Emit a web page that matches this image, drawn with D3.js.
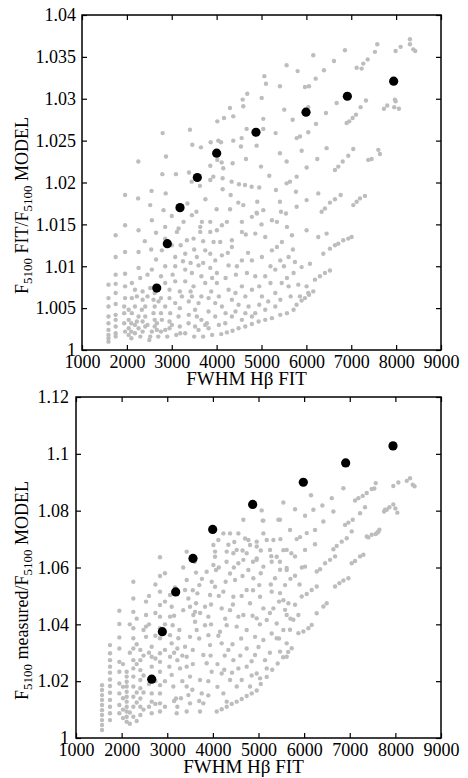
<!DOCTYPE html>
<html>
<head>
<meta charset="utf-8">
<script src="https://cdn.jsdelivr.net/npm/d3@7"></script>
<style>
  body { margin: 0; background: #fff; }
  text { font-family: "Liberation Serif", "Times New Roman", serif; fill: #000; }
</style>
</head>
<body>
<svg id="chart" width="468" height="778"></svg>
<script>
// x axis is the same for both panels
var xTicks = [1000, 2000, 3000, 4000, 5000, 6000, 7000, 8000, 9000];

var topYTicks = [1, 1.005, 1.01, 1.015, 1.02, 1.025, 1.03, 1.035, 1.04];
var topYLabels = ["1", "1.005", "1.01", "1.015", "1.02", "1.025", "1.03", "1.035", "1.04"];
var bottomYTicks = [1, 1.02, 1.04, 1.06, 1.08, 1.1, 1.12];
var bottomYLabels = ["1", "1.02", "1.04", "1.06", "1.08", "1.1", "1.12"];

// binned means (black)
var topMeanX = [2665, 2901, 3184, 3570, 4001, 4877, 5992, 6913, 7945];
var topMeanY = [1.0074, 1.0127, 1.0170, 1.0206, 1.0235, 1.0260, 1.0284, 1.0303, 1.0321];
var bottomMeanX = [2659, 2892, 3185, 3564, 3996, 4872, 5982, 6911, 7948];
var bottomMeanY = [1.0207, 1.0374, 1.0514, 1.0632, 1.0734, 1.0822, 1.0900, 1.0968, 1.1028];

// model grid (grey)
var topGrid = [
  [1590,1.0010],[1590,1.0014],[1590,1.0018],[1590,1.0024],[1590,1.0032],[1590,1.0040],[1590,1.0052],[1590,1.0062],[1590,1.0078],
  [1750,1.0016],[1750,1.0020],[1750,1.0028],[1750,1.0036],[1750,1.0042],[1750,1.0055],[1750,1.0068],[1750,1.0079],[1750,1.0090],[1750,1.0111],[1750,1.0137],
  [1960,1.0022],[1940,1.0032],[1940,1.0044],[1940,1.0052],[1960,1.0062],[1960,1.0076],[1960,1.0091],[1960,1.0117],[1960,1.0149],[1960,1.0185],
  [2250,1.0181],[2550,1.0190],[2865,1.0187],[2255,1.0225],[2797,1.0259],[2872,1.0231],[2790,1.0210],[3094,1.0210],[3406,1.0263],[3458,1.0245],
  [3651,1.0242],[3384,1.0212],[3444,1.0201],[3629,1.0196],[3859,1.0220],[3859,1.0203],[4015,1.0273],[4164,1.0277],[4297,1.0289],[4371,1.0279],
  [4037,1.0250],[4112,1.0224],[4371,1.0250],
  [3867,1.0248],[4097,1.0248],[4580,1.0299],[4594,1.0291],[4683,1.0306],[5004,1.0301],[5063,1.0327],[5100,1.0318],[5411,1.0315],[5560,1.0340],
  [5805,1.0333],[5968,1.0314],[6058,1.0315],[6154,1.0352],[6207,1.0324],[6392,1.0334],[6615,1.0345],[6860,1.0358],[7120,1.0337],[7231,1.0336],
  [7268,1.0342],[7366,1.0347],[7528,1.0356],[7580,1.0365],
  [8308,1.0371],[8308,1.0365],[8382,1.0359],[8426,1.0357],[8100,1.0362],[7988,1.0357],
  [5507,1.0287],[5694,1.0275],[6042,1.0290],[6436,1.0283],[6675,1.0295],[6897,1.0271],[6955,1.0273],[7031,1.0277],[7105,1.0281],[7209,1.0290],
  [7328,1.0298],[7729,1.0288],[7802,1.0292],[7973,1.0299],[7988,1.0297],[7958,1.0290],[8062,1.0288],
  [5040,1.0276],[5315,1.0259],[5783,1.0253],[5857,1.0255],[6042,1.0260],[6214,1.0270],[5040,1.0264],[4669,1.0264],[4558,1.0253],[4542,1.0243],
  [4892,1.0244],[5411,1.0235],[5895,1.0238],[6451,1.0241],[7045,1.0240],[7603,1.0239],[7639,1.0234],[7379,1.0227],[7454,1.0228],
  [4989,1.0219],[5560,1.0225],[6006,1.0218],[6243,1.0228],[6637,1.0215],[6711,1.0219],[6809,1.0225],[6934,1.0232],
  [4654,1.0228],[4357,1.0223],[4148,1.0217],[4134,1.0205],[4334,1.0201],[4498,1.0198],[4632,1.0197],[4780,1.0195],[4950,1.0194],[5173,1.0208],
  [5322,1.0191],[5560,1.0199],[5634,1.0201],[5783,1.0207],[5768,1.0189],[6006,1.0179],[6265,1.0187],[6340,1.0165],[6414,1.0169],[6525,1.0176],
  [6637,1.0180],[6764,1.0185],[7045,1.0173],[7120,1.0177],[7194,1.0181],[7305,1.0184],
  [3926,1.0207],[4015,1.0227],[4134,1.0192],[4313,1.0185],[4483,1.0176],[4594,1.0173],[4906,1.0177],[5040,1.0167],[5411,1.0177],[5434,1.0165],
  [5545,1.0163],[5783,1.0171],[4892,1.0164],
  [2817,1.0167],[2520,1.0173],
  [2260,1.0143],[2557,1.0155],[2854,1.0147],[3152,1.0145],[3263,1.0153],[3449,1.0161],[3635,1.0147],[3672,1.0153],
  [3858,1.0153],[4006,1.0143],[4118,1.0149],[4229,1.0153],[4563,1.0153],[4786,1.0159],[4898,1.0163],[5232,1.0155],[5344,1.0153],[5567,1.0147],
  [2854,1.0133],[3115,1.0141],[3337,1.0131],[3486,1.0133],[3635,1.0141],[3858,1.0141],[3932,1.0129],[4080,1.0129],[4340,1.0131],[4563,1.0141],
  [4861,1.0139],[5083,1.0135],[5344,1.0123],[5455,1.0129],[5678,1.0137],
  [2260,1.0117],[2542,1.0120],[2780,1.0119],[3077,1.0111],[3300,1.0115],[3560,1.0111],[3746,1.0119],[3858,1.0115],[3969,1.0107],[4118,1.0113],
  [4340,1.0123],[4563,1.0107],[4786,1.0107],[5009,1.0111],[5232,1.0119],[5418,1.0107],[5604,1.0111],
  [2260,1.0098],[2557,1.0096],[2854,1.0100],[3077,1.0100],[3300,1.0096],[3449,1.0092],[3597,1.0101],[3858,1.0098],[4006,1.0092],[4266,1.0101],
  [4452,1.0100],[4675,1.0092],[4861,1.0088],[5083,1.0088],[5307,1.0096],[5567,1.0086],[5715,1.0092],
  [2111,1.0080],[2297,1.0086],[2520,1.0074],[2854,1.0080],[3077,1.0082],[3300,1.0082],[3486,1.0076],[3746,1.0080],[4006,1.0080],[4266,1.0072],
  [4563,1.0076],[4786,1.0072],[5009,1.0064],[5307,1.0068],[5604,1.0076],
  [2111,1.0062],[2223,1.0064],[2409,1.0052],[2594,1.0060],[2706,1.0058],[2854,1.0052],[3077,1.0056],[3226,1.0064],[3449,1.0064],[3597,1.0056],
  [3820,1.0062],[3969,1.0056],[4118,1.0052],[4340,1.0060],[4489,1.0054],[4712,1.0052],[4861,1.0044],[5083,1.0048],[5307,1.0052],
  [2111,1.0044],[2223,1.0034],[2409,1.0040],[2594,1.0044],[2780,1.0036],[2966,1.0044],[3152,1.0040],[3375,1.0032],[3560,1.0040],[3783,1.0032],
  [3969,1.0040],[4192,1.0032],[4340,1.0040],[4563,1.0036],[4786,1.0040],
  [2097,1.0032],[2097,1.0022],[2260,1.0026],[2409,1.0028],[2557,1.0022],[2854,1.0024],[3189,1.0020],[3597,1.0024],[3746,1.0030],
  [2260,1.0040],[2334,1.0048],[2669,1.0032],[2669,1.0024],[3003,1.0030],[2520,1.0016],
  [2100,1.0014],[2300,1.0016],[2500,1.0012],[2700,1.0016],[2900,1.0016],[3100,1.0018],[3300,1.0020],[3500,1.0016],[3700,1.0016],[3900,1.0018],
  [4103,1.0019],[4229,1.0021],[4355,1.0023],[4489,1.0026],[4638,1.0028],[4786,1.0031],[4935,1.0034],[5083,1.0036],[5232,1.0038],[5418,1.0042],
  [5567,1.0044],[5715,1.0048],[5782,1.0054],[5894,1.0059],[5968,1.0062],[6060,1.0066],[6154,1.0070],
  [6005,1.0143],[6451,1.0139],[6265,1.0135],[6711,1.0127],[6822,1.0131],[6934,1.0133],[7008,1.0135],[5745,1.0105],[5894,1.0099],[6080,1.0103],
  [6302,1.0088],[6414,1.0092],[6525,1.0095],[5820,1.0078],[6005,1.0076],[5857,1.0064],[6042,1.0068],
  [6377,1.0115],[6525,1.0121],[6637,1.0125],[6191,1.0084]
];

// denser part of the cloud, lower left of the upper panel
var topGridDense = [
  [2040,1.0018],[2040,1.0026],[2040,1.0036],[2040,1.0048],[2180,1.0020],[2180,1.0030],[2180,1.0052],[2180,1.0072],
  [2350,1.0022],[2350,1.0034],[2350,1.0060],[2350,1.0070],[2460,1.0030],[2460,1.0064],[2460,1.0090],
  [2620,1.0028],[2620,1.0036],[2620,1.0052],[2620,1.0068],[2760,1.0022],[2760,1.0044],[2760,1.0062],[2760,1.0088],
  [2950,1.0026],[2950,1.0034],[2950,1.0062],[2950,1.0072],[3020,1.0090],[3180,1.0028],[3180,1.0050],[3180,1.0070],[3250,1.0106],
  [3380,1.0042],[3380,1.0058],[3420,1.0070],[3420,1.0104],[3520,1.0028],[3520,1.0048],[3660,1.0036],[3660,1.0064],[3660,1.0088],[3700,1.0104],
  [3820,1.0026],[3820,1.0046],[3880,1.0070],[3900,1.0086],[4050,1.0030],[4050,1.0064],[4200,1.0044],[4200,1.0086],[4250,1.0116],
  [4420,1.0046],[4420,1.0068],[4430,1.0090],[4640,1.0044],[4640,1.0064],[4700,1.0116],[4950,1.0054],[4950,1.0076],
  [5150,1.0058],[5200,1.0080],[5420,1.0060],[5450,1.0080],[5650,1.0064],[5700,1.0120],
  [3000,1.0125],[3200,1.0125],[3500,1.0120],[3700,1.0130],[2650,1.0108],[2400,1.0130],[2650,1.0140],[3000,1.0160],
  [3350,1.0175],[3550,1.0165],[3750,1.0180],[4000,1.0168],[4300,1.0168],[4650,1.0138],[5000,1.0150],[5200,1.0100],[5500,1.0100]
];

var bottomGrid = [
  [1570,1.0186],[1570,1.0169],[1570,1.0151],[1570,1.0134],[1570,1.0116],[1570,1.0098],[1570,1.0081],[1570,1.0063],[1570,1.0046],[1570,1.0028],
  [1745,1.0327],[1745,1.0298],[1745,1.0274],[1745,1.0251],[1745,1.0230],[1745,1.0206],[1745,1.0183],[1745,1.0159],[1745,1.0134],[1745,1.0110],
  [1745,1.0087],[1745,1.0063],
  [1950,1.0448],[1950,1.0401],[1950,1.0354],[1950,1.0315],[1950,1.0268],[1950,1.0233],[1950,1.0192],[1950,1.0157],[1950,1.0116],[1950,1.0087],
  [2111,1.0233],[2111,1.0216],[2111,1.0198],[2111,1.0181],[2111,1.0163],[2111,1.0145],[2111,1.0128],[2111,1.0110],[2111,1.0093],[2111,1.0075],
  [2111,1.0057],
  [2257,1.0550],[2257,1.0491],[2257,1.0444],[2257,1.0386],[2257,1.0351],[2257,1.0315],[2257,1.0274],[2257,1.0245],[2257,1.0216],[2257,1.0181],
  [2257,1.0145],[2257,1.0110],[2257,1.0075],
  [2410,1.0310],[2410,1.0274],[2410,1.0239],[2410,1.0204],[2410,1.0175],[2410,1.0139],[2410,1.0110],[2410,1.0081],
  [2535,1.0480],[2535,1.0433],[2535,1.0392],[2535,1.0356],
  [2659,1.0321],[2659,1.0286],[2659,1.0251],[2659,1.0157],[2659,1.0128],[2659,1.0087],
  [2841,1.0636],[2841,1.0570],[2841,1.0515],[2841,1.0468],[2841,1.0427],[2841,1.0386],[2841,1.0351],[2841,1.0298],[2841,1.0268],[2841,1.0233],
  [2841,1.0186],[2841,1.0157],[2841,1.0122],[2841,1.0093],
  [3061,1.0503],[3097,1.0462],[3061,1.0427],[3119,1.0397],[3061,1.0362],[3097,1.0333],[3061,1.0286],[3046,1.0251],[3097,1.0222],[3134,1.0181],
  [3192,1.0139],[3221,1.0110],[3207,1.0087],
  [3265,1.0380],[3243,1.0351],[3221,1.0315],[3221,1.0274],[3280,1.0245],
  [3426,1.0656],[3426,1.0556],[3390,1.0521],[3463,1.0491],[3499,1.0462],[3572,1.0433],[3609,1.0409],[3645,1.0380],[3499,1.0356],[3390,1.0321],
  [3426,1.0286],[3426,1.0251],[3499,1.0216],[3426,1.0181],[3463,1.0151],[3499,1.0122],[3426,1.0093],
  [3631,1.0474],[3660,1.0509],[3704,1.0538],[3609,1.0444],
  [3864,1.0585],[4011,1.0609],[4047,1.0656],[4011,1.0679],[3974,1.0550],[4047,1.0532],[3938,1.0503],[3828,1.0462],[3901,1.0427],[3828,1.0397],
  [3901,1.0362],[3938,1.0327],[3791,1.0292],[3864,1.0263],[3974,1.0233],[3718,1.0204],[3755,1.0157],[3791,1.0122],[3718,1.0093],[4047,1.0638],
  [4069,1.0591],[3630,1.0582],
  [4230,1.0720],[4376,1.0720],[4559,1.0720],[4303,1.0656],[4449,1.0650],[4559,1.0615],[4376,1.0579],[4486,1.0556],[4230,1.0515],[4449,1.0497],
  [4193,1.0456],[4376,1.0450],[4559,1.0427],[4303,1.0397],[4157,1.0374],[4522,1.0392],[4193,1.0333],[4339,1.0310],[4449,1.0274],[4559,1.0245],
  [4193,1.0227],[4376,1.0204],[4522,1.0181],[4230,1.0157],[4303,1.0128],
  [4705,1.0702],[4814,1.0679],[4961,1.0691],[5107,1.0720],[4741,1.0650],[4961,1.0632],[5107,1.0603],[4778,1.0591],[4887,1.0562],[5017,1.0538],
  [4741,1.0521],[5034,1.0497],[4814,1.0474],[5107,1.0456],[4668,1.0433],[4961,1.0421],[5180,1.0415],[4741,1.0380],[4924,1.0356],[5107,1.0345],
  [5289,1.0368],[4741,1.0315],[4924,1.0292],[5143,1.0274],[4741,1.0251],[4961,1.0227],[5180,1.0245],[4632,1.0204],[4814,1.0181],[5034,1.0210],
  [5326,1.0697],[5545,1.0661],[5399,1.0638],[5289,1.0620],[5618,1.0591],[5362,1.0562],[5582,1.0538],[5289,1.0515],[5545,1.0485],[5326,1.0456],
  [5618,1.0433],[5399,1.0403],[5545,1.0380],[5399,1.0351],[5618,1.0333],[5472,1.0304],[5618,1.0286],
  [4084,1.0093],[4193,1.0101],[4303,1.0110],[4413,1.0120],[4522,1.0128],[4632,1.0137],[4741,1.0148],[4851,1.0157],[4961,1.0167],[5050,1.0190],
  [5180,1.0215],[5300,1.0240],[5420,1.0262],[5540,1.0284],[5650,1.0303],[5728,1.0316],
  [4668,1.0768],[5070,1.0801],[5107,1.0765],[5436,1.0768],[4120,1.0697],[4340,1.0680],[4522,1.0662],[4778,1.0697],[4961,1.0674],[5180,1.0697],
  [5253,1.0662],[4961,1.0627],[4668,1.0627],[5092,1.0765],
  [5545,1.0829],[5801,1.0805],[6020,1.0782],[6203,1.0803],[6400,1.0818],[6605,1.0844],[6860,1.0879],[7116,1.0836],[7189,1.0844],[7284,1.0852],
  [7372,1.0862],[7482,1.0876],[7569,1.0897],[6151,1.0854],
  [5472,1.0768],[5691,1.0732],[5837,1.0700],[5911,1.0707],[6057,1.0721],[6239,1.0732],[6422,1.0762],[6641,1.0797],[6897,1.0750],[6970,1.0758],
  [7065,1.0768],[7226,1.0791],[7335,1.0812],[7752,1.0797],[7810,1.0803],
  [5618,1.0662],[5801,1.0639],[6020,1.0662],[6239,1.0682],[6641,1.0664],[6714,1.0676],[6824,1.0691],[6934,1.0703],[7043,1.0727],[7408,1.0706],
  [7482,1.0715],[7606,1.0723],[7650,1.0733],
  [5472,1.0592],[5618,1.0598],[5801,1.0571],[6020,1.0603],[6276,1.0586],[6349,1.0594],[6459,1.0615],[6568,1.0627],[6678,1.0639],[7043,1.0615],
  [7116,1.0623],[7226,1.0639],[7299,1.0645],
  [5472,1.0510],[5655,1.0474],[5801,1.0469],[5947,1.0498],[6057,1.0507],[6166,1.0521],[6276,1.0533],[6678,1.0533],[6773,1.0545],[6861,1.0554],
  [6970,1.0562],
  [5582,1.0451],[5764,1.0416],[5874,1.0433],[6276,1.0439],[6422,1.0463],[6495,1.0474],
  [5691,1.0381],[5874,1.0369],[5984,1.0375],[6093,1.0386],[6166,1.0398],
  [7539,1.0878],[7955,1.0887],[8065,1.0899],[8250,1.0905],[8321,1.0914],[8380,1.0891],[8420,1.0886],
  [7773,1.0803],[7868,1.0812],[7955,1.0822],[8000,1.0808],[8043,1.0793],
  [7372,1.0709],[7569,1.0718],[7627,1.0726]
];

// denser part of the cloud, lower left of the lower panel
var bottomGridDense = [
  [2030,1.0070],[2030,1.0100],[2030,1.0140],[2030,1.0180],[2030,1.0260],[2180,1.0050],[2180,1.0090],[2180,1.0300],[2180,1.0400],
  [2330,1.0060],[2330,1.0125],[2330,1.0160],[2330,1.0260],[2330,1.0330],[2330,1.0420],[2480,1.0100],[2480,1.0160],[2480,1.0220],
  [2480,1.0290],[2480,1.0380],[2600,1.0110],[2600,1.0190],[2600,1.0300],[2600,1.0400],[2600,1.0500],[2740,1.0120],[2740,1.0200],
  [2740,1.0280],[2740,1.0360],[2740,1.0440],[2740,1.0540],[2950,1.0110],[2950,1.0200],[2950,1.0310],[2950,1.0400],[2950,1.0480],
  [2950,1.0580],[3150,1.0130],[3150,1.0300],[3150,1.0430],[3170,1.0530],[3300,1.0140],[3330,1.0200],[3330,1.0290],[3350,1.0450],
  [3350,1.0600],[3550,1.0170],[3560,1.0260],[3560,1.0310],[3560,1.0520],[3600,1.0620],[3700,1.0130],[3700,1.0350],[3720,1.0440],
  [3760,1.0560],[3900,1.0150],[3900,1.0200],[3950,1.0290],[3960,1.0400],[3960,1.0470],[4100,1.0180],[4100,1.0260],[4120,1.0360],
  [4130,1.0500],[4130,1.0600],[4250,1.0240],[4260,1.0290],[4270,1.0420],[4280,1.0550],[4300,1.0620],[4420,1.0230],[4430,1.0330],
  [4440,1.0470],[4460,1.0600],[4470,1.0690],[4600,1.0290],[4620,1.0350],[4630,1.0500],[4650,1.0570],[4650,1.0660],[4850,1.0220],
  [4850,1.0270],[4870,1.0430],[4880,1.0520],[4880,1.0620],[5000,1.0320],[5030,1.0400],[5050,1.0580],[5050,1.0660],[5250,1.0300],
  [5250,1.0440],[5270,1.0540],[5280,1.0640],[5450,1.0350],[5450,1.0480],[5470,1.0620],[5480,1.0700],[5700,1.0420],[5700,1.0560],
  [5720,1.0650],[5900,1.0540],[5950,1.0600]
];

var svg = d3.select("#chart");

var panels = [
  { left: 82, right: 441, top: 15, bottom: 350, yMax: 1.04, yTickPad: 6,
    grid: topGrid.concat(topGridDense), meanX: topMeanX, meanY: topMeanY, yTicks: topYTicks, yLabels: topYLabels,
    ylab: [["F", 0], ["5100", 1], [" FIT/F", 0], ["5100", 1], [" MODEL", 0]] },
  { left: 76, right: 441, top: 397, bottom: 738, yMax: 1.12, yTickPad: 7,
    grid: bottomGrid.concat(bottomGridDense), meanX: bottomMeanX, meanY: bottomMeanY, yTicks: bottomYTicks, yLabels: bottomYLabels,
    ylab: [["F", 0], ["5100", 1], [" measured/F", 0], ["5100", 1], [" MODEL", 0]] }
];

panels.forEach(drawPanel);

function drawPanel(p) {
  var x = d3.scaleLinear().domain([1000, 9000]).range([p.left, p.right]);
  var y = d3.scaleLinear().domain([1, p.yMax]).range([p.bottom, p.top]);
  var g = svg.append("g");

  // grey model points first, means on top
  g.selectAll("circle.grid")
    .data(p.grid)
    .enter()
    .append("circle")
    .attr("class", "grid")
    .attr("cx", function(d) { return x(d[0]); })
    .attr("cy", function(d) { return y(d[1]); })
    .attr("r", 2.2)
    .style("fill", "#bdbdbd");

  g.selectAll("circle.mean")
    .data(p.meanX)
    .enter()
    .append("circle")
    .attr("class", "mean")
    .attr("cx", function(d) { return x(d); })
    .attr("cy", function(d, i) { return y(p.meanY[i]); })
    .attr("r", 4.6)
    .style("fill", "#000");

  // axes: ticks point inwards on all four sides
  var bottomAxis = d3.axisBottom(x).tickValues(xTicks).tickSizeInner(-5).tickSizeOuter(0).tickPadding(5)
    .tickFormat(d3.format("d"));
  var topAxis = d3.axisTop(x).tickValues(xTicks).tickSizeInner(-5).tickSizeOuter(0).tickFormat("");
  var leftAxis = d3.axisLeft(y).tickValues(p.yTicks).tickSizeInner(-5).tickSizeOuter(0).tickPadding(p.yTickPad)
    .tickFormat(function(d, i) { return p.yLabels[i]; });
  var rightAxis = d3.axisRight(y).tickValues(p.yTicks).tickSizeInner(-5).tickSizeOuter(0).tickFormat("");

  var ax = [
    g.append("g").attr("transform", "translate(0," + p.bottom + ")").call(bottomAxis),
    g.append("g").attr("transform", "translate(0," + p.top + ")").call(topAxis),
    g.append("g").attr("transform", "translate(" + p.left + ",0)").call(leftAxis),
    g.append("g").attr("transform", "translate(" + p.right + ",0)").call(rightAxis)
  ];
  ax.forEach(function(a) {
    a.select(".domain").remove();
    a.selectAll("line").style("stroke", "#000").style("stroke-width", 1.2);
    a.selectAll("text").style("font-family", "'Liberation Serif', serif").style("font-size", "18px").style("fill", "#000");
  });

  g.append("rect")
    .attr("x", p.left).attr("y", p.top)
    .attr("width", p.right - p.left).attr("height", p.bottom - p.top)
    .style("fill", "none").style("stroke", "#000").style("stroke-width", 1.5);

  g.append("text")
    .attr("x", (p.left + p.right) / 2 - 15)
    .attr("y", p.bottom + 35)
    .attr("text-anchor", "middle")
    .style("font-size", "19px")
    .text("FWHM H\u03b2 FIT");

  var cy = (p.top + p.bottom) / 2 + 23;
  var yl = g.append("text")
    .attr("transform", "translate(28," + cy + ") rotate(-90)")
    .attr("text-anchor", "middle")
    .style("font-size", "18px");
  var down = false;
  p.ylab.forEach(function(part) {
    var t = yl.append("tspan").text(part[0]);
    if (part[1]) {
      t.style("font-size", "13px").attr("dy", 4);
      down = true;
    } else if (down) {
      t.attr("dy", -4);
      down = false;
    }
  });
}
</script>
</body>
</html>
